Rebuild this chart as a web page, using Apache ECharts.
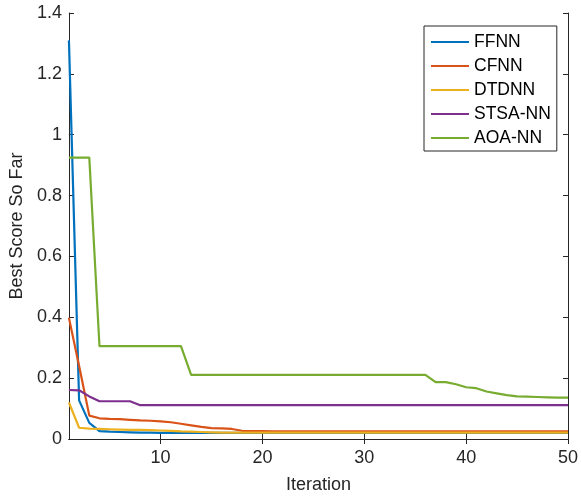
<!DOCTYPE html>
<html>
<head>
<meta charset="utf-8">
<script src="https://cdn.jsdelivr.net/npm/echarts@6/dist/echarts.min.js"></script>
<style>
    html, body { margin: 0; padding: 0; background: #fff; }
    #chart { width: 581px; height: 499px; }
</style>
</head>
<body>
<div id="chart"></div>
<script>
// series values, one per iteration 1..50
var seriesNames = ['FFNN', 'CFNN', 'DTDNN', 'STSA-NN', 'AOA-NN'];
var seriesColors = ['#0072BD', '#D95319', '#EDB120', '#7E2F8E', '#77AC30'];

var ffnn = [1.31, 0.127, 0.053, 0.026, 0.024, 0.023, 0.022, 0.021, 0.021, 0.020,
    0.020, 0.020, 0.020, 0.020, 0.020, 0.020, 0.020, 0.020, 0.020, 0.020,
    0.020, 0.020, 0.020, 0.020, 0.020, 0.020, 0.020, 0.020, 0.020, 0.020,
    0.020, 0.020, 0.020, 0.020, 0.020, 0.020, 0.020, 0.020, 0.020, 0.020,
    0.020, 0.020, 0.020, 0.020, 0.020, 0.020, 0.020, 0.020, 0.020, 0.020];
var cfnn = [0.398, 0.24, 0.077, 0.068, 0.066, 0.065, 0.063, 0.061, 0.060, 0.058,
    0.055, 0.050, 0.045, 0.040, 0.036, 0.035, 0.033, 0.027, 0.026, 0.026,
    0.025, 0.025, 0.025, 0.025, 0.025, 0.025, 0.025, 0.025, 0.025, 0.025,
    0.025, 0.025, 0.025, 0.025, 0.025, 0.025, 0.025, 0.025, 0.025, 0.025,
    0.025, 0.025, 0.025, 0.025, 0.025, 0.025, 0.025, 0.025, 0.025, 0.025];
var dtdnn = [0.12, 0.037, 0.034, 0.033, 0.032, 0.031, 0.030, 0.030, 0.029, 0.028,
    0.027, 0.025, 0.024, 0.023, 0.022, 0.021, 0.021, 0.021, 0.021, 0.021,
    0.021, 0.021, 0.021, 0.021, 0.021, 0.021, 0.021, 0.021, 0.021, 0.021,
    0.021, 0.021, 0.021, 0.021, 0.021, 0.021, 0.021, 0.021, 0.021, 0.021,
    0.021, 0.021, 0.021, 0.021, 0.021, 0.021, 0.021, 0.021, 0.021, 0.021];
var stsa = [0.161, 0.160, 0.140, 0.124, 0.124, 0.124, 0.124, 0.111, 0.111, 0.111,
    0.111, 0.111, 0.111, 0.111, 0.111, 0.111, 0.111, 0.111, 0.111, 0.111,
    0.111, 0.111, 0.111, 0.111, 0.111, 0.111, 0.111, 0.111, 0.111, 0.111,
    0.111, 0.111, 0.111, 0.111, 0.111, 0.111, 0.111, 0.111, 0.111, 0.111,
    0.111, 0.111, 0.111, 0.111, 0.111, 0.111, 0.111, 0.111, 0.111, 0.111];
var aoa = [0.925, 0.925, 0.925, 0.305, 0.305, 0.305, 0.305, 0.305, 0.305, 0.305,
    0.305, 0.305, 0.211, 0.211, 0.211, 0.211, 0.211, 0.211, 0.211, 0.211,
    0.211, 0.211, 0.211, 0.211, 0.211, 0.211, 0.211, 0.211, 0.211, 0.211,
    0.211, 0.211, 0.211, 0.211, 0.211, 0.211, 0.187, 0.187, 0.180, 0.170,
    0.167, 0.156, 0.150, 0.144, 0.140, 0.139, 0.138, 0.137, 0.136, 0.136];

var xTickValues = [10, 20, 30, 40, 50];

var FONT = '"Liberation Sans", Arial, sans-serif';
var AXIS_COLOR = '#262626';

function toPairs(values) {
    var pairs = [];
    values.forEach(function (v, i) {
        pairs.push([i + 1, v]);
    });
    return pairs;
}

var allValues = [ffnn, cfnn, dtdnn, stsa, aoa];
var series = [];
seriesNames.forEach(function (name, i) {
    series.push({
        name: name,
        type: 'line',
        data: toPairs(allValues[i]),
        symbol: 'none',
        color: seriesColors[i],
        lineStyle: { width: 2.2, color: seriesColors[i] },
        animation: false
    });
});

var axisLine = { show: true, lineStyle: { color: AXIS_COLOR, width: 1 } };
var tickStyle = { color: AXIS_COLOR };

var option = {
    backgroundColor: '#fff',
    animation: false,
    grid: { left: 67, right: 13, top: 13, bottom: 57 },
    legend: {
        orient: 'vertical',
        left: 424,
        top: 26,
        icon: 'rect',
        itemWidth: 38,
        itemHeight: 2,
        itemGap: 6,
        padding: [7, 6, 4, 7],
        borderColor: '#262626',
        borderWidth: 1,
        backgroundColor: '#fff',
        textStyle: { fontFamily: FONT, fontSize: 17.5, color: '#000' },
        data: seriesNames
    },
    xAxis: [{
        type: 'value',
        min: 1,
        max: 50,
        name: 'Iteration',
        nameLocation: 'middle',
        nameGap: 37,
        nameTextStyle: { fontFamily: FONT, fontSize: 18, color: AXIS_COLOR },
        axisLine: axisLine,
        axisTick: { show: true, inside: true, length: 5, customValues: xTickValues, lineStyle: tickStyle },
        axisLabel: { customValues: xTickValues, fontFamily: FONT, fontSize: 18, color: AXIS_COLOR, margin: 10 },
        splitLine: { show: false }
    }, {
        type: 'value',
        position: 'top',
        min: 1,
        max: 50,
        axisLine: axisLine,
        axisTick: { show: true, inside: true, length: 5, customValues: xTickValues, lineStyle: tickStyle },
        axisLabel: { show: false },
        splitLine: { show: false }
    }],
    yAxis: [{
        type: 'value',
        min: 0,
        max: 1.4,
        interval: 0.2,
        name: 'Best Score So Far',
        nameLocation: 'middle',
        nameGap: 40,
        nameTextStyle: { fontFamily: FONT, fontSize: 18, color: AXIS_COLOR },
        axisLine: axisLine,
        axisTick: { show: true, inside: true, length: 5, lineStyle: tickStyle },
        axisLabel: { fontFamily: FONT, fontSize: 18, color: AXIS_COLOR, margin: 7 },
        splitLine: { show: false }
    }, {
        type: 'value',
        position: 'right',
        min: 0,
        max: 1.4,
        interval: 0.2,
        axisLine: axisLine,
        axisTick: { show: true, inside: true, length: 5, lineStyle: tickStyle },
        axisLabel: { show: false },
        splitLine: { show: false }
    }],
    series: series
};

var chart = echarts.init(document.getElementById('chart'), null, { renderer: 'canvas' });
chart.setOption(option);
</script>
</body>
</html>
